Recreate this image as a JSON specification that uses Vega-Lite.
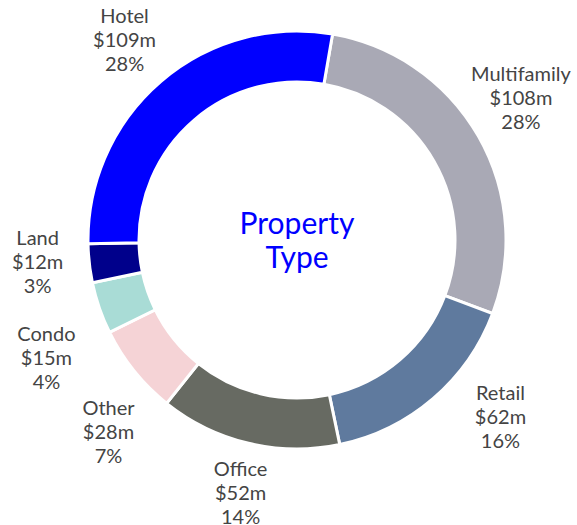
{
  "$schema": "https://vega.github.io/schema/vega-lite/v6.json",
  "autosize": "none",
  "width": 560,
  "height": 480,
  "padding": {"left": 17, "top": 0, "right": 0, "bottom": 45},
  "background": "white",
  "config": {"view": {"stroke": null}, "text": {"font": "Lato"}},
  "data": {
    "values": [
      {"type": "Multifamily", "value": 108, "pct": 28, "order": 1, "label": "Multifamily\n$108m\n28%"},
      {"type": "Retail", "value": 62, "pct": 16, "order": 2, "label": "Retail\n$62m\n16%"},
      {"type": "Office", "value": 52, "pct": 14, "order": 3, "label": "Office\n$52m\n14%"},
      {"type": "Other", "value": 28, "pct": 7, "order": 4, "label": "Other\n$28m\n7%"},
      {"type": "Condo", "value": 15, "pct": 4, "order": 5, "label": "Condo\n$15m\n4%"},
      {"type": "Land", "value": 12, "pct": 3, "order": 6, "label": "Land\n$12m\n3%"},
      {"type": "Hotel", "value": 109, "pct": 28, "order": 7, "label": "Hotel\n$109m\n28%"}
    ]
  },
  "layer": [
    {
      "mark": {"type": "arc", "outerRadius": 209, "innerRadius": 158, "stroke": "white", "strokeWidth": 3},
      "encoding": {
        "theta": {"field": "pct", "type": "quantitative", "stack": true, "scale": {"range": [0.171, 6.4542]}},
        "order": {"field": "order", "type": "quantitative"},
        "color": {
          "field": "type", "type": "nominal", "legend": null,
          "scale": {
            "domain": ["Multifamily", "Retail", "Office", "Other", "Condo", "Land", "Hotel"],
            "range": ["#A9A9B5", "#5F7A9E", "#676A62", "#F5D3D6", "#A9DCD6", "#00008B", "#0000FF"]
          }
        }
      }
    },
    {
      "mark": {"type": "text", "radius": 265, "dx": 0, "dy": -22, "fontSize": 20, "lineHeight": 24, "lineBreak": "\n", "color": "#444444", "align": "center", "baseline": "middle"},
      "encoding": {
        "theta": {"field": "pct", "type": "quantitative", "stack": true, "scale": {"range": [0.171, 6.4542]}},
        "order": {"field": "order", "type": "quantitative"},
        "text": {"condition": {"test": "datum.type === 'Hotel'", "field": "label"}, "value": ""}
      }
    },
    {
      "mark": {"type": "text", "radius": 265, "dx": 5, "dy": -28, "fontSize": 20, "lineHeight": 24, "lineBreak": "\n", "color": "#444444", "align": "center", "baseline": "middle"},
      "encoding": {
        "theta": {"field": "pct", "type": "quantitative", "stack": true, "scale": {"range": [0.171, 6.4542]}},
        "order": {"field": "order", "type": "quantitative"},
        "text": {"condition": {"test": "datum.type === 'Office'", "field": "label"}, "value": ""}
      }
    },
    {
      "mark": {"type": "text", "radius": 265, "dx": -6, "dy": -33, "fontSize": 20, "lineHeight": 24, "lineBreak": "\n", "color": "#444444", "align": "center", "baseline": "middle"},
      "encoding": {
        "theta": {"field": "pct", "type": "quantitative", "stack": true, "scale": {"range": [0.171, 6.4542]}},
        "order": {"field": "order", "type": "quantitative"},
        "text": {"condition": {"test": "datum.type === 'Multifamily'", "field": "label"}, "value": ""}
      }
    },
    {
      "mark": {"type": "text", "radius": 265, "dx": 31, "dy": -47, "fontSize": 20, "lineHeight": 24, "lineBreak": "\n", "color": "#444444", "align": "center", "baseline": "middle"},
      "encoding": {
        "theta": {"field": "pct", "type": "quantitative", "stack": true, "scale": {"range": [0.171, 6.4542]}},
        "order": {"field": "order", "type": "quantitative"},
        "text": {"condition": {"test": "datum.type === 'Retail'", "field": "label"}, "value": ""}
      }
    },
    {
      "mark": {"type": "text", "radius": 265, "dx": 18, "dy": 3, "fontSize": 20, "lineHeight": 24, "lineBreak": "\n", "color": "#444444", "align": "center", "baseline": "middle"},
      "encoding": {
        "theta": {"field": "pct", "type": "quantitative", "stack": true, "scale": {"range": [0.171, 6.4542]}},
        "order": {"field": "order", "type": "quantitative"},
        "text": {"condition": {"test": "datum.type === 'Other'", "field": "label"}, "value": ""}
      }
    },
    {
      "mark": {"type": "text", "radius": 265, "dx": 0, "dy": 9, "fontSize": 20, "lineHeight": 24, "lineBreak": "\n", "color": "#444444", "align": "center", "baseline": "middle"},
      "encoding": {
        "theta": {"field": "pct", "type": "quantitative", "stack": true, "scale": {"range": [0.171, 6.4542]}},
        "order": {"field": "order", "type": "quantitative"},
        "text": {"condition": {"test": "datum.type === 'Condo'", "field": "label"}, "value": ""}
      }
    },
    {
      "mark": {"type": "text", "radius": 265, "dx": 4, "dy": -31, "fontSize": 20, "lineHeight": 24, "lineBreak": "\n", "color": "#444444", "align": "center", "baseline": "middle"},
      "encoding": {
        "theta": {"field": "pct", "type": "quantitative", "stack": true, "scale": {"range": [0.171, 6.4542]}},
        "order": {"field": "order", "type": "quantitative"},
        "text": {"condition": {"test": "datum.type === 'Land'", "field": "label"}, "value": ""}
      }
    },
    {
      "data": {"values": [{"title": "Property\nType"}]},
      "mark": {"type": "text", "dy": -15, "fontSize": 30, "lineHeight": 34, "lineBreak": "\n", "color": "#0000FF", "align": "center", "baseline": "middle"},
      "encoding": {"text": {"field": "title", "type": "nominal"}}
    }
  ]
}
